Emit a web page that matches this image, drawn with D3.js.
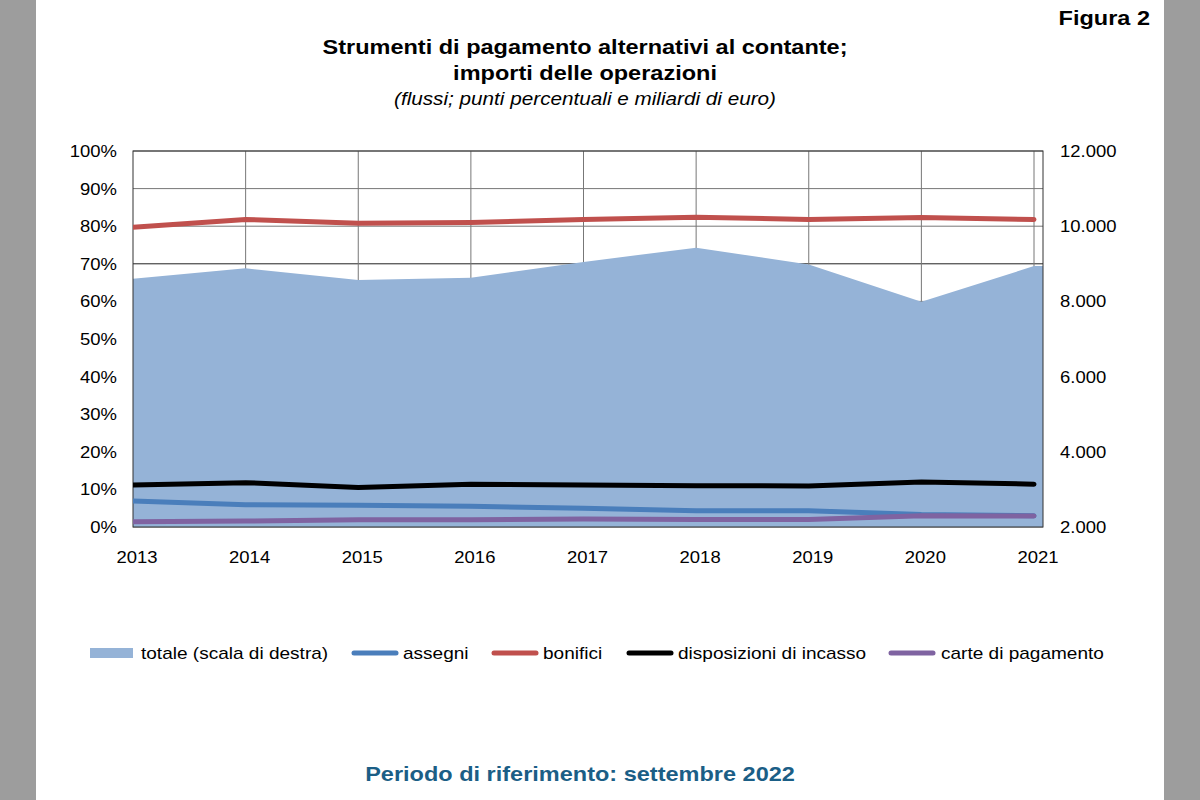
<!DOCTYPE html>
<html><head><meta charset="utf-8">
<script src="https://cdn.jsdelivr.net/npm/d3@7"></script>
<style>body{margin:0;background:#fff}svg{display:block;font-family:"Liberation Sans",Arial,sans-serif}</style>
</head><body><svg id="c" width="1200" height="800"></svg>
<script>
const years = [2013,2014,2015,2016,2017,2018,2019,2020,2021];
const totale = [8600,8880,8570,8630,9050,9430,8980,7990,8940];
const assegni = [6.9,5.9,5.8,5.5,5.0,4.3,4.3,3.3,3.0];
const bonifici = [79.7,81.8,80.8,81.0,81.8,82.4,81.8,82.3,81.8];
const disposizioni = [11.2,11.8,10.5,11.4,11.2,11.0,10.9,12.0,11.4];
const carte = [1.4,1.6,1.9,1.95,2.1,2.0,2.0,3.0,2.9];
const leftTicks = [0,10,20,30,40,50,60,70,80,90,100];
const rightTicks = [2000,4000,6000,8000,10000,12000];
const seriesNames = ["totale (scala di destra)","assegni","bonifici","disposizioni di incasso","carte di pagamento"];
const colors = {area:"#95b3d7", assegni:"#4a7ebb", bonifici:"#c0504d", disposizioni:"#000000", carte:"#7f63a1"};

const SX = 1.12; // horizontal stretch of the reference typography
const svg = d3.select("#c");
function txt(parent, x, y, s, opts){
  const t = parent.append("text").attr("transform",`translate(${x},${y}) scale(${SX},1)`)
    .attr("font-size",opts.size).attr("text-anchor",opts.anchor||"start").text(s);
  if(opts.weight) t.attr("font-weight",opts.weight);
  if(opts.style) t.attr("font-style",opts.style);
  if(opts.fill) t.attr("fill",opts.fill);
  return t;
}

// gray sidebars
svg.append("rect").attr("x",0).attr("y",0).attr("width",36).attr("height",800).attr("fill","#9d9d9d");
svg.append("rect").attr("x",1164).attr("y",0).attr("width",36).attr("height",800).attr("fill","#9d9d9d");

const L=133, R=1043, T=151, B=527;
const x = d3.scaleLinear().domain([2013,2021]).range([133,1034]);
const yL = d3.scaleLinear().domain([0,100]).range([B,T]);
const yR = d3.scaleLinear().domain([2000,12000]).range([B,T]);

// gridlines
const g = svg.append("g");
g.selectAll(".h").data(leftTicks).join("line")
  .attr("x1",L).attr("x2",R).attr("y1",d=>yL(d)).attr("y2",d=>yL(d))
  .attr("stroke",d=>d===70?"#222":"#777").attr("stroke-width",1);
g.selectAll(".v").data(years.slice(1)).join("line")
  .attr("x1",d=>x(d)).attr("x2",d=>x(d)).attr("y1",T).attr("y2",B)
  .attr("stroke","#777").attr("stroke-width",1);

// area (extends to the right plot edge)
const areaPts = years.map((y,i)=>[x(y),yR(totale[i])]);
areaPts.push([R, yR(totale[totale.length-1])]);
svg.append("path").datum(areaPts)
  .attr("d", d3.area().x(d=>d[0]).y0(B).y1(d=>d[1]))
  .attr("fill",colors.area);

// plot border
svg.append("rect").attr("x",L).attr("y",T).attr("width",R-L).attr("height",B-T)
  .attr("fill","none").attr("stroke","#333").attr("stroke-width",1);

svg.append("clipPath").attr("id","clip").append("rect").attr("x",L).attr("y",T-5).attr("width",R-L).attr("height",B-T+10);
const line = d3.line().x((d,i)=>x(years[i])).y(d=>yL(d));
const lg = svg.append("g").attr("clip-path","url(#clip)");
[[disposizioni,colors.disposizioni],[assegni,colors.assegni],[carte,colors.carte],[bonifici,colors.bonifici]].forEach(([data,col])=>{
  lg.append("path").datum(data).attr("d",line).attr("fill","none")
    .attr("stroke",col).attr("stroke-width",5).attr("stroke-linecap","round").attr("stroke-linejoin","round");
});

// axes labels
const fs = 16.5;
const axg = svg.append("g");
leftTicks.forEach(d=>txt(axg,117,yL(d)+6,d+"%",{size:fs,anchor:"end"}));
const fmt = d3.formatLocale({decimal:",",thousands:".",grouping:[3],currency:["€",""]}).format(",");
rightTicks.forEach(d=>txt(axg,1060,yR(d)+6,fmt(d),{size:fs}));
years.forEach(d=>txt(axg,x(d)+4,563,String(d),{size:fs,anchor:"middle"}));

// titles
txt(svg,1150,25,"Figura 2",{size:21,weight:"bold",anchor:"end"});
txt(svg,585,54,"Strumenti di pagamento alternativi al contante;",{size:21,weight:"bold",anchor:"middle"});
txt(svg,585,80,"importi delle operazioni",{size:21,weight:"bold",anchor:"middle"});
txt(svg,585,105,"(flussi; punti percentuali e miliardi di euro)",{size:18.5,style:"italic",anchor:"middle"});

// legend
const legendItems = [
  {name:seriesNames[0], type:"area", col:colors.area, sx:90, tx:141},
  {name:seriesNames[1], type:"line", col:colors.assegni, sx:354, tx:403},
  {name:seriesNames[2], type:"line", col:colors.bonifici, sx:494, tx:543},
  {name:seriesNames[3], type:"line", col:colors.disposizioni, sx:629, tx:678},
  {name:seriesNames[4], type:"line", col:colors.carte, sx:891, tx:941}
];
const ly = 653;
legendItems.forEach(it=>{
  if(it.type==="area"){
    svg.append("rect").attr("x",it.sx).attr("y",ly-5).attr("width",43).attr("height",10).attr("fill",it.col);
  } else {
    svg.append("line").attr("x1",it.sx).attr("x2",it.sx+42).attr("y1",ly).attr("y2",ly)
      .attr("stroke",it.col).attr("stroke-width",5).attr("stroke-linecap","round");
  }
  txt(svg,it.tx,ly+6,it.name,{size:17});
});

txt(svg,580,781,"Periodo di riferimento: settembre 2022",{size:21,weight:"bold",anchor:"middle",fill:"#1b5e86"});
</script></body></html>
